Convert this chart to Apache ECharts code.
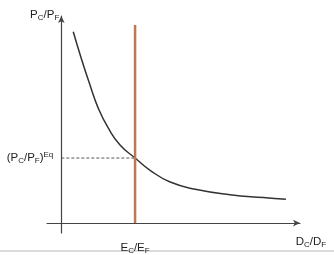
<!DOCTYPE html>
<html><head><meta charset="utf-8">
<script src="https://cdn.jsdelivr.net/npm/echarts@6/dist/echarts.min.js"></script>
<style>html,body{margin:0;padding:0;background:#fff}#c{width:334px;height:255px}</style>
</head><body><div id="c"></div>
<script>
// Demand curve D_C/D_F vs P_C/P_F (arbitrary units)
const curveX = [0.50, 0.85, 1.20, 1.55, 1.97, 2.46, 3.09, 3.72, 4.56, 5.67, 7.07, 8.46, 9.41];
const curveY = [9.24, 7.90, 6.67, 5.54, 4.58, 3.77, 3.14, 2.55, 1.98, 1.62, 1.37, 1.23, 1.15];
// Equilibrium
const eqX = 3.09;      // E_C/E_F
const eqY = 3.14;      // (P_C/P_F)^Eq
const supplyTop = 9.57;
const xRange = [-0.6, 10];
const yRange = [-0.48, 10];

const font = 'Liberation Sans, Arial, sans-serif';
const rich = {
  m: {fontSize: 11.5, color: '#222', fontFamily: font},
  s: {fontSize: 8, color: '#222', fontFamily: font, padding: [6, 0, 0, 0]},
  u: {fontSize: 8, color: '#222', fontFamily: font, padding: [0, 0, 6, 0]}
};

const chart = echarts.init(document.getElementById('c'), null, {renderer: 'canvas'});
chart.setOption({
  animation: false,
  grid: {left: 47, right: 34, top: 16, bottom: 22, containLabel: false, outerBoundsMode: 'none'},
  xAxis: {
    type: 'value', min: xRange[0], max: xRange[1],
    splitLine: {show: false},
    axisTick: {show: false},
    axisLine: {lineStyle: {color: '#444', width: 1.2}, symbol: ['none', 'arrow'], symbolSize: [5, 7]},
    axisLabel: {
      customValues: [eqX], margin: 8,
      formatter: () => '{m|E}{s|C}{m|/E}{s|F}', rich: rich
    },
    name: '{m|D}{s|C}{m|/D}{s|F}',
    nameLocation: 'end', nameGap: 11,
    nameTextStyle: {align: 'center', verticalAlign: 'top', padding: [12, 0, 0, 0], rich: rich}
  },
  yAxis: {
    type: 'value', min: yRange[0], max: yRange[1],
    splitLine: {show: false},
    axisTick: {show: false},
    axisLabel: {show: false},
    axisLine: {lineStyle: {color: '#444', width: 1.2}, symbol: ['none', 'arrow'], symbolSize: [5, 7]},
    name: '{m|P}{s|C}{m|/P}{s|F}',
    nameLocation: 'end', nameGap: 1,
    nameTextStyle: {align: 'right', verticalAlign: 'middle', padding: [0, 2, 0, 0], rich: rich}
  },
  series: [
    {
      type: 'line', smooth: 0.5, symbol: 'none',
      data: curveX.map((x, i) => [x, curveY[i]]),
      lineStyle: {color: '#333', width: 1.5}
    },
    {
      type: 'line', symbol: 'circle', symbolSize: 0,
      data: [
        {value: [0, eqY], label: {
          show: true, position: 'left', distance: 8,
          formatter: () => '{m|(P}{s|C}{m|/P}{s|F}{m|)}{u|Eq}', rich: rich
        }},
        [eqX, eqY]
      ],
      lineStyle: {color: '#555', width: 1, type: [3, 2]}
    },
    {
      type: 'line', symbol: 'none',
      data: [[eqX, 0], [eqX, supplyTop]],
      lineStyle: {color: '#b97a58', width: 2.5}
    }
  ],
  graphic: [{
    type: 'rect', shape: {x: 0, y: 250, width: 334, height: 2},
    style: {fill: '#dcdcdc'}
  }]
});
</script></body></html>
